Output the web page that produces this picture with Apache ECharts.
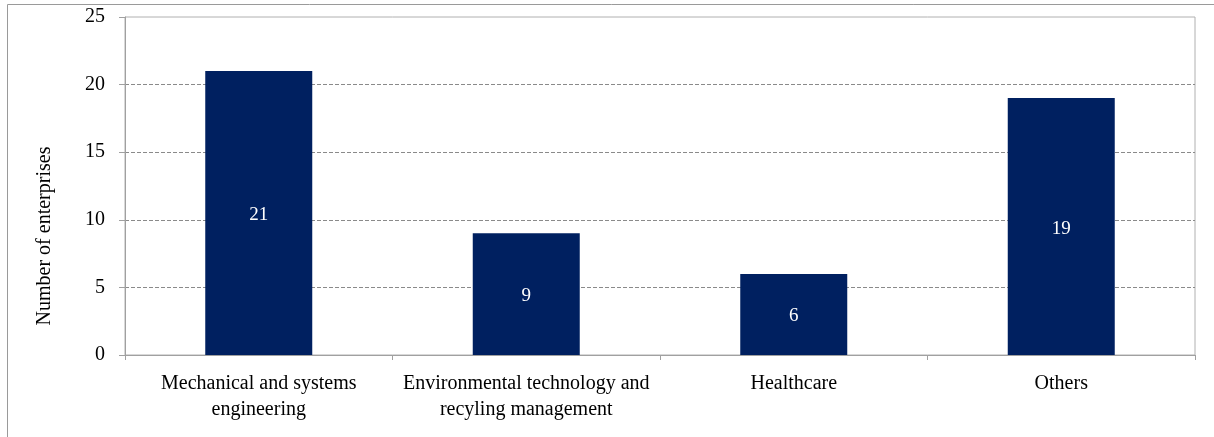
<!DOCTYPE html>
<html>
<head>
<meta charset="utf-8">
<script src="https://cdn.jsdelivr.net/npm/echarts@6/dist/echarts.min.js"></script>
<style>
  html, body { margin: 0; padding: 0; background: #fff; }
  #chart { width: 1214px; height: 437px; }
</style>
</head>
<body>
<div id="chart"></div>
<script>
// Enterprises by sector
const categories = [
  'Mechanical and systems\nengineering',
  'Environmental technology and\nrecyling management',
  'Healthcare',
  'Others'
];
const enterprises = [21, 9, 6, 19];
const yTicks = { min: 0, max: 25, interval: 5 };
const yTitle = 'Number of enterprises';

const serif = '"Liberation Serif", "DejaVu Serif", serif';
const chart = echarts.init(document.getElementById('chart'), null, { renderer: 'canvas' });

chart.setOption({
  animation: false,
  backgroundColor: '#ffffff',
  grid: {
    left: 125, right: 19, top: 17, bottom: 82,
    show: true, borderColor: '#b0b0b0', borderWidth: 1
  },
  graphic: [
    {
      type: 'rect',
      shape: { x: 7.5, y: 4.5, width: 1300, height: 500 },
      style: { fill: 'none', stroke: '#9a9a9a', lineWidth: 1 },
      silent: true
    },
    {
      type: 'text',
      x: 45, y: 236,
      rotation: Math.PI / 2,
      style: {
        text: yTitle,
        font: '20px ' + serif,
        fill: '#000',
        align: 'center',
        verticalAlign: 'middle'
      }
    }
  ],
  xAxis: {
    type: 'category',
    data: categories,
    axisLine: { show: true, lineStyle: { color: '#a0a0a0', width: 1 } },
    axisTick: { show: true, length: 5, alignWithLabel: false, lineStyle: { color: '#a0a0a0' } },
    axisLabel: {
      interval: 0,
      margin: 16,
      color: '#000',
      fontFamily: serif,
      fontSize: 20,
      lineHeight: 26
    },
    splitLine: { show: false }
  },
  yAxis: {
    type: 'value',
    min: yTicks.min,
    max: yTicks.max,
    interval: yTicks.interval,
    axisLine: { show: true, lineStyle: { color: '#a0a0a0', width: 1 } },
    axisTick: { show: true, inside: false, length: 6, lineStyle: { color: '#a0a0a0' } },
    axisLabel: {
      margin: 20,
      color: '#000',
      fontFamily: serif,
      fontSize: 20
    },
    splitLine: {
      show: true,
      showMinLine: false,
      showMaxLine: false,
      lineStyle: { color: '#8a8a8a', type: [4, 2], width: 1 }
    }
  },
  series: [{
    type: 'bar',
    data: enterprises,
    barWidth: '40%',
    itemStyle: { color: '#002060' },
    label: {
      show: true,
      position: 'inside',
      offset: [0, 2],
      color: '#ffffff',
      fontFamily: serif,
      fontSize: 19
    }
  }]
});
</script>
</body>
</html>
